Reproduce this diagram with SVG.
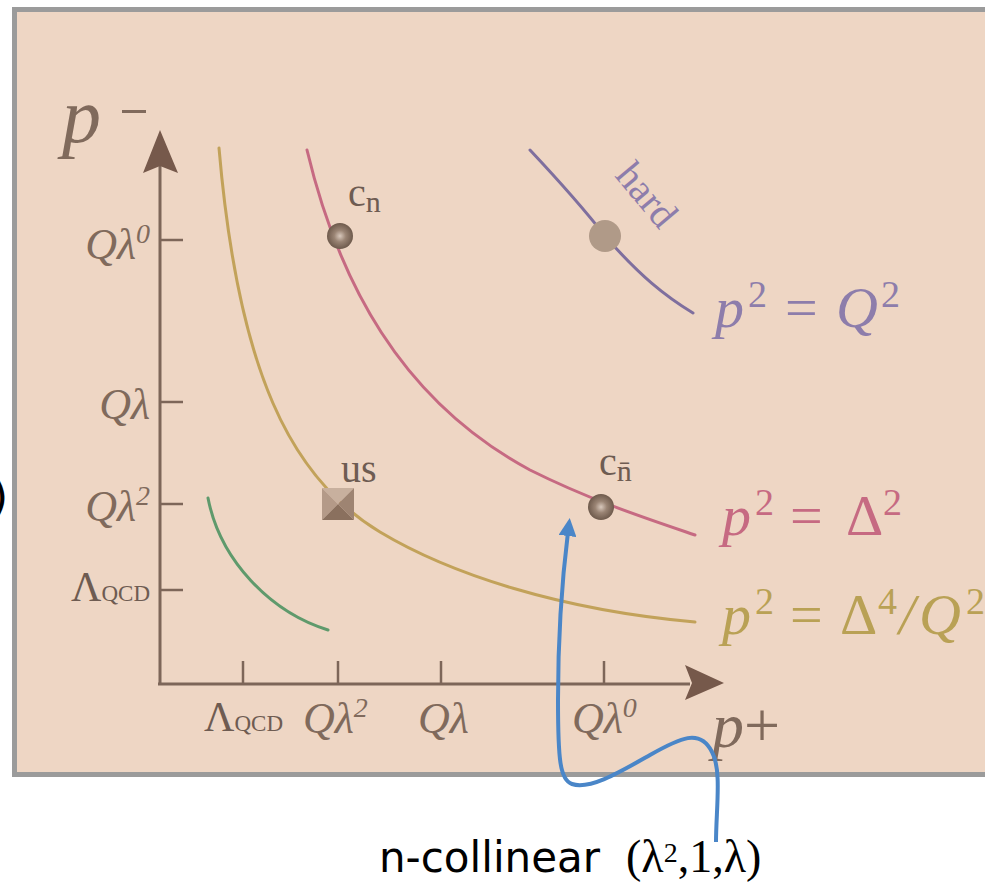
<svg xmlns="http://www.w3.org/2000/svg" width="985" height="883" viewBox="0 0 985 883">
<defs>
<style>
.ax{stroke:#7d6659;stroke-width:3;fill:none}
.tk{stroke:#7d6659;stroke-width:2.5;fill:none}
.lab{font-family:"Liberation Serif",serif;font-style:italic;fill:#806a5c}
.rm{font-family:"Liberation Serif",serif;fill:#6e5c52}
.crv{fill:none;stroke-width:3;stroke-linecap:round}
.eq{font-family:"Liberation Serif",serif;font-size:58px}
</style>
<radialGradient id="ball" cx="0.5" cy="0.5" r="0.5">
<stop offset="0" stop-color="#d8c8bc"/>
<stop offset="0.45" stop-color="#9a8474"/>
<stop offset="1" stop-color="#6e5a4c"/>
</radialGradient>
<marker id="bluearrow" markerWidth="18" markerHeight="18" refX="4" refY="9" orient="auto" markerUnits="userSpaceOnUse" viewBox="0 0 18 18">
<path d="M0,0 L18,9 L0,18 z" fill="#4a86c8"/>
</marker>
</defs>
<rect x="0" y="0" width="985" height="883" fill="#ffffff"/>
<text x="-9" y="512" font-family="DejaVu Sans, sans-serif" font-size="44" fill="#000">)</text>
<rect x="14.5" y="9.5" width="985" height="765" fill="#eed6c4" stroke="#9b9b9b" stroke-width="5"/>

<g id="axes">
<line class="ax" x1="160" y1="684" x2="160" y2="165"/>
<path d="M160,130 L178,173 L160,166 L143,173 z" fill="#76594b"/>
<line class="ax" x1="158" y1="684" x2="690" y2="684"/>
<path d="M724,683 L685,700 L692,683 L685,665 z" fill="#76594b"/>
<line class="tk" x1="160" y1="240" x2="183" y2="240"/>
<line class="tk" x1="160" y1="402" x2="183" y2="402"/>
<line class="tk" x1="160" y1="504" x2="183" y2="504"/>
<line class="tk" x1="160" y1="590" x2="183" y2="590"/>
<line class="tk" x1="243" y1="684" x2="243" y2="661"/>
<line class="tk" x1="338" y1="684" x2="338" y2="661"/>
<line class="tk" x1="441" y1="684" x2="441" y2="661"/>
<line class="tk" x1="604" y1="684" x2="604" y2="661"/>
<text class="lab" x="62" y="142" font-size="78">p</text>
<rect x="122" y="110" width="24" height="3" fill="#806a5c"/>
<text class="lab" x="150" y="259" font-size="44" text-anchor="end">Qλ<tspan font-size="28" dy="-16">0</tspan></text>
<text class="lab" x="150" y="419" font-size="44" text-anchor="end">Qλ</text>
<text class="lab" x="150" y="521" font-size="44" text-anchor="end">Qλ<tspan font-size="28" dy="-16">2</tspan></text>
<text class="rm" x="150" y="601" font-size="42" text-anchor="end" fill="#806a5c">Λ<tspan font-size="23">QCD</tspan></text>
<text class="rm" x="204" y="731" font-size="42" fill="#806a5c">Λ<tspan font-size="23">QCD</tspan></text>
<text class="lab" x="303" y="733" font-size="44">Qλ<tspan font-size="28" dy="-16">2</tspan></text>
<text class="lab" x="418" y="733" font-size="44">Qλ</text>
<text class="lab" x="572" y="733" font-size="44">Qλ<tspan font-size="28" dy="-16">0</tspan></text>
<text class="lab" x="712" y="747" font-size="64">p<tspan font-style="normal">+</tspan></text>
</g>

<g id="curve-green"><path class="crv" stroke="#5f9a6c" d="M208,498 C220,560 270,612 328,630"/></g>
<g id="curve-yellow"><path class="crv" stroke="#c2a25a" d="M219,148 C238,370 290,478 380,532 C450,574 560,610 695,622"/></g>
<g id="curve-red"><path class="crv" stroke="#c66a82" d="M307,150 C338,280 400,400 530,470 C590,500 645,518 695,535"/></g>
<g id="curve-purple"><path class="crv" stroke="#7f6f9e" d="M530,150 C560,182 588,214 605,236 C640,276 665,296 693,313"/></g>

<g id="node-cn">
<circle cx="340" cy="236" r="13" fill="url(#ball)"/>
<text class="rm" x="348" y="206" font-size="40">c<tspan font-size="30" dy="6">n</tspan></text>
</g>
<g id="node-cnbar">
<circle cx="601" cy="507" r="13" fill="url(#ball)"/>
<text class="rm" x="599" y="475" font-size="40">c<tspan font-size="30" dy="6">n̄</tspan></text>
</g>
<g id="node-hard">
<circle cx="605" cy="236" r="16" fill="#b09a88"/>
<text font-family="Liberation Serif, serif" font-size="40" fill="#8d7dab" transform="translate(614,176) rotate(50)">hard</text>
</g>
<g id="node-us">
<polygon points="322,488 354,488 338,504" fill="#c8b09e"/>
<polygon points="322,488 338,504 322,520" fill="#b49a88"/>
<polygon points="354,488 354,520 338,504" fill="#9e8472"/>
<polygon points="322,520 338,504 354,520" fill="#8a705e"/>
<text class="rm" x="341" y="482" font-size="40">us</text>
</g>

<g id="labels">
<text class="eq" fill="#8d7dab" y="327"><tspan x="715" font-style="italic">p</tspan><tspan x="748" font-size="38" dy="-20">2</tspan><tspan x="785" dy="20">=</tspan><tspan x="836" font-style="italic">Q</tspan><tspan x="881" font-size="38" dy="-20">2</tspan></text>
<text class="eq" fill="#c66a82" y="535"><tspan x="722" font-style="italic">p</tspan><tspan x="755" font-size="38" dy="-20">2</tspan><tspan x="790" dy="20">=</tspan><tspan x="846">Δ</tspan><tspan x="883" font-size="38" dy="-20">2</tspan></text>
<text class="eq" fill="#b9a155" y="634"><tspan x="722" font-style="italic">p</tspan><tspan x="755" font-size="38" dy="-20">2</tspan><tspan x="790" dy="20">=</tspan><tspan x="840">Δ</tspan><tspan x="878" font-size="38" dy="-20">4</tspan><tspan x="899" dy="20" font-style="italic">/</tspan><tspan x="919" font-style="italic">Q</tspan><tspan x="966" font-size="38" dy="-20">2</tspan></text>
</g>

<g id="connectors">
<path d="M716,842 C716,810 722,770 712,752 C700,728 680,738 650,755 C620,772 590,790 572,784 C560,780 558,760 558,700 C558,640 562,580 568,532" fill="none" stroke="#4a86c8" stroke-width="4" marker-end="url(#bluearrow)"/>
</g>

<g id="caption">
<text x="379" y="872" font-family="DejaVu Sans, sans-serif" font-size="42" fill="#000">n-collinear</text>
<text x="626" y="872" font-family="Liberation Serif, serif" font-size="46" fill="#000">(λ<tspan font-size="28" dy="-10">2</tspan><tspan dy="10">,1,λ)</tspan></text>
</g>
</svg>
